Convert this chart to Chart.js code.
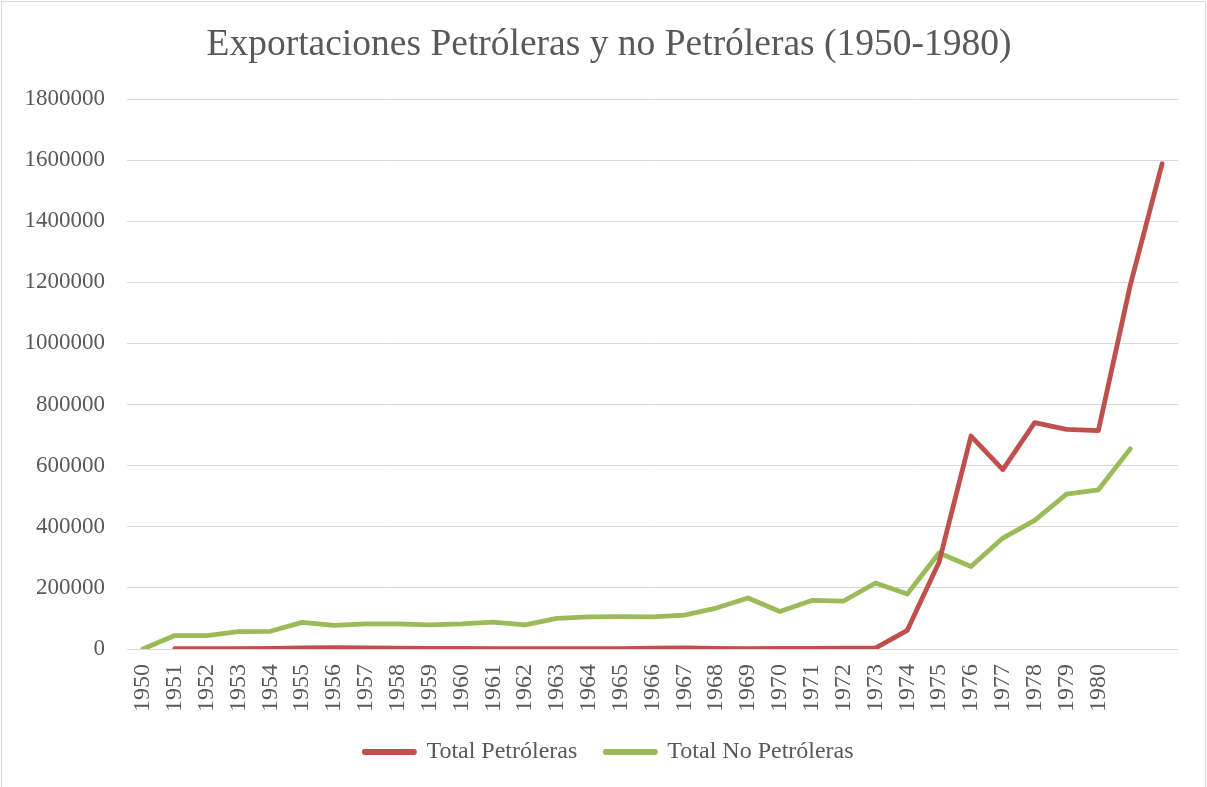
<!DOCTYPE html>
<html>
<head>
    <meta charset="utf-8">
    <title>Exportaciones Petróleras y no Petróleras</title>
    <script src="https://cdn.jsdelivr.net/npm/chart.js"></script>
    <style>
        body { margin: 0; background: #ffffff; }
        #grafica { display: block; }
    </style>
</head>
<body>
    <canvas id="grafica" width="1207" height="787"></canvas>
    <script>
        // Años (las dos últimas categorías no tienen etiqueta)
        const anios = ['1950', '1951', '1952', '1953', '1954', '1955', '1956', '1957', '1958', '1959',
            '1960', '1961', '1962', '1963', '1964', '1965', '1966', '1967', '1968', '1969',
            '1970', '1971', '1972', '1973', '1974', '1975', '1976', '1977', '1978', '1979',
            '1980', '', ''];

        // Valores
        const totalPetroleras = [null, 1000, 1200, 1500, 2000, 4000, 4500, 4000, 2500, 2000,
            2000, 1500, 1500, 1500, 1500, 1500, 2500, 4000, 2000, 1500,
            2000, 2000, 2500, 3000, 61000, 285000, 697000, 587000, 741000, 719000,
            715000, 1190000, 1588000];

        const totalNoPetroleras = [0, 44000, 44000, 57000, 58000, 87000, 77000, 82000, 82000, 79000,
            82000, 88000, 79000, 100000, 105000, 106000, 105000, 111000, 134000, 167000,
            123000, 159000, 157000, 216000, 180000, 314000, 270000, 363000, 421000, 507000,
            521000, 655000, null];

        const ticksY = [0, 200000, 400000, 600000, 800000, 1000000, 1200000, 1400000, 1600000, 1800000];

        const rojo = '#C0504D';
        const verde = '#9BBB59';
        const gris = '#595959';

        Chart.defaults.font.family = '"Liberation Serif", "Times New Roman", serif';
        Chart.defaults.color = gris;

        // marco gris claro alrededor de toda la gráfica
        const marco = {
            id: 'marco',
            beforeDraw(chart) {
                const ctx = chart.ctx;
                ctx.save();
                ctx.fillStyle = '#ffffff';
                ctx.fillRect(0, 0, chart.width, chart.height);
                ctx.strokeStyle = '#d9d9d9';
                ctx.lineWidth = 1;
                ctx.strokeRect(1.5, 1.5, 1204, 800);
                ctx.restore();
            }
        };

        // centra título y leyenda un poco más a la derecha, como en el original
        const centrado = {
            id: 'centrado',
            afterLayout(chart) {
                if (chart.titleBlock) chart.titleBlock.left = 40;
                if (chart.legend) chart.legend.left = 40;
            }
        };

        const ctx = document.getElementById('grafica').getContext('2d');
        new Chart(ctx, {
            type: 'line',
            data: {
                labels: anios,
                datasets: [{
                    label: 'Total Petróleras',
                    data: totalPetroleras,
                    borderColor: rojo,
                    backgroundColor: rojo,
                    borderWidth: 4.8,
                    borderCapStyle: 'round',
                    borderJoinStyle: 'round',
                    pointRadius: 0,
                    tension: 0
                }, {
                    label: 'Total No Petróleras',
                    data: totalNoPetroleras,
                    borderColor: verde,
                    backgroundColor: verde,
                    borderWidth: 4.8,
                    borderCapStyle: 'round',
                    borderJoinStyle: 'round',
                    pointRadius: 0,
                    tension: 0
                }]
            },
            options: {
                responsive: false,
                animation: false,
                layout: { padding: { left: 0, right: 29, top: 0, bottom: 13 } },
                plugins: {
                    title: {
                        display: true,
                        text: 'Exportaciones Petróleras y no Petróleras (1950-1980)',
                        color: gris,
                        font: { size: 37.5, weight: 'normal', lineHeight: 1.2 },
                        padding: { top: 23, bottom: 31 }
                    },
                    legend: {
                        position: 'bottom',
                        labels: {
                            boxWidth: 50,
                            boxHeight: 1,
                            padding: 28,
                            color: gris,
                            font: { size: 24 }
                        }
                    },
                    tooltip: { enabled: false }
                },
                scales: {
                    x: {
                        offset: true,
                        grid: { display: false },
                        border: { display: false },
                        ticks: {
                            autoSkip: false,
                            maxRotation: 90,
                            minRotation: 90,
                            padding: 7,
                            color: gris,
                            font: { size: 24 }
                        },
                        afterFit(scale) { scale.height = 63; }
                    },
                    y: {
                        min: 0,
                        max: 1800000,
                        afterBuildTicks(scale) {
                            scale.ticks = ticksY.map(v => ({ value: v }));
                        },
                        grid: { color: '#d9d9d9', lineWidth: 1, drawTicks: false },
                        border: { display: false },
                        ticks: {
                            padding: 22,
                            color: gris,
                            font: { size: 23 },
                            callback: v => String(v)
                        },
                        afterFit(scale) { scale.width = 127; }
                    }
                }
            },
            plugins: [marco, centrado]
        });
    </script>
</body>
</html>
